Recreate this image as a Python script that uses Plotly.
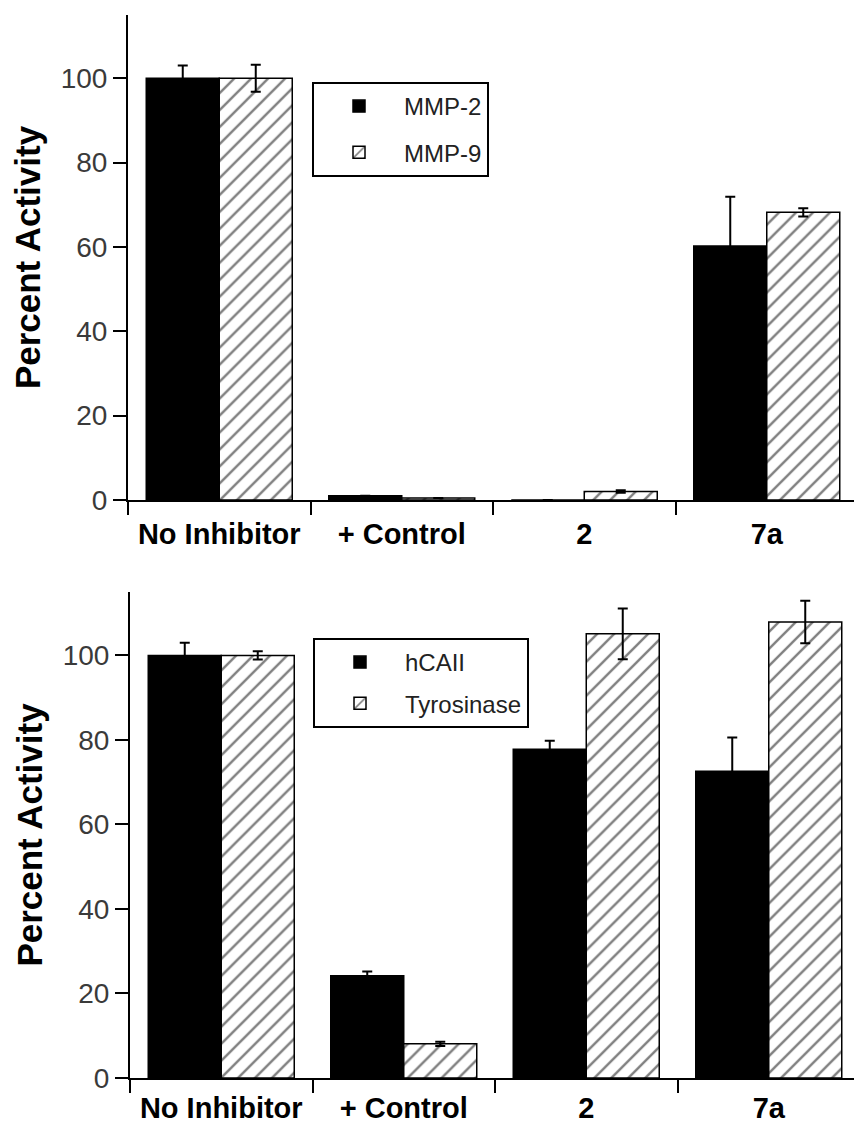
import plotly.graph_objects as go

categories = ["No Inhibitor", "+ Control", "2", "7a"]

mmp2 = [100, 1.0, 0, 60.2]
mmp2_err = [3.0, 0, 0, 11.7]
mmp9 = [100, 0.5, 2.0, 68.2]
mmp9_err = [3.2, 0, 0.3, 1.0]

hcaii = [100, 24.2, 77.8, 72.6]
hcaii_err = [3.0, 1.0, 2.0, 8.0]
tyrosinase = [100, 8.1, 105.1, 107.9]
tyrosinase_err = [1.0, 0.5, 6.0, 5.0]

y_ticks = [0, 20, 40, 60, 80, 100]

W, H = 854, 1125
FONT = "Liberation Sans, Arial, sans-serif"

def solid_marker():
    return dict(color="black", line=dict(color="black", width=1.5))

def hatch_marker():
    return dict(color="white",
                pattern=dict(shape="/", size=12, solidity=0.2, fgcolor="black",
                             bgcolor="white", fillmode="overlay"),
                line=dict(color="black", width=1.5))

def err(arr):
    return dict(type="data", array=arr, visible=True, color="black", thickness=2, width=5)

fig = go.Figure()
fig.add_trace(go.Bar(x=categories, y=mmp2, name="MMP-2", marker=solid_marker(),
                     error_y=err(mmp2_err), xaxis="x", yaxis="y",
                     legend="legend", legendgroup="a"))
fig.add_trace(go.Bar(x=categories, y=mmp9, name="MMP-9", marker=hatch_marker(),
                     error_y=err(mmp9_err), xaxis="x", yaxis="y",
                     legend="legend", legendgroup="b"))
fig.add_trace(go.Bar(x=categories, y=hcaii, name="hCAII", marker=solid_marker(),
                     error_y=err(hcaii_err), xaxis="x2", yaxis="y2",
                     legend="legend2", legendgroup="c"))
fig.add_trace(go.Bar(x=categories, y=tyrosinase, name="Tyrosinase", marker=hatch_marker(),
                     error_y=err(tyrosinase_err), xaxis="x2", yaxis="y2",
                     legend="legend2", legendgroup="d"))

def xaxis(domain, rng, anchor, standoff):
    return dict(domain=domain, range=rng, anchor=anchor, type="category",
                categoryorder="array", categoryarray=categories,
                showline=True, linecolor="black", linewidth=2,
                ticks="outside", tickson="boundaries", ticklen=13, tickwidth=2,
                tickcolor="black", showgrid=False, zeroline=False,
                ticklabelstandoff=standoff,
                tickfont=dict(family=FONT, size=29, color="black", weight="bold"),
                automargin=False, fixedrange=True)

def yaxis(domain, anchor):
    return dict(domain=domain, range=[0, 115], anchor=anchor,
                tickvals=y_ticks, ticktext=[str(v) for v in y_ticks],
                showline=True, linecolor="black", linewidth=2,
                ticks="outside", ticklen=13, tickwidth=2, tickcolor="black",
                showgrid=False, zeroline=False,
                tickfont=dict(family=FONT, size=28, color="#3a3a3a"),
                title=dict(text="Percent Activity", standoff=9,
                           font=dict(family=FONT, size=35, color="black", weight="bold")),
                automargin=False, fixedrange=True)

cat_w = 182.5
fig.update_layout(
    width=W, height=H,
    margin=dict(l=0, r=0, t=0, b=0),
    paper_bgcolor="white", plot_bgcolor="white",
    barmode="group", bargap=0.2, bargroupgap=0,
    font=dict(family=FONT),
    xaxis=xaxis([128 / W, 1], [-0.5, -0.5 + (W - 128) / cat_w], "y", 7),
    yaxis=yaxis([1 - 500 / H, 1 - 15 / H], "x"),
    xaxis2=xaxis([130 / W, 1], [-0.5, -0.5 + (W - 130) / cat_w], "y2", 3),
    yaxis2=yaxis([1 - 1078 / H, 1 - 592 / H], "x2"),
    legend=dict(x=312 / W, y=1 - 82 / H, xanchor="left", yanchor="top",
                bordercolor="black", borderwidth=2, bgcolor="white",
                font=dict(family=FONT, size=24, color="#222222"),
                itemwidth=80, tracegroupgap=12, traceorder="grouped"),
    legend2=dict(x=313 / W, y=1 - 638 / H, xanchor="left", yanchor="top",
                 bordercolor="black", borderwidth=2, bgcolor="white",
                 font=dict(family=FONT, size=24, color="#222222"),
                 itemwidth=80, tracegroupgap=7, traceorder="grouped"),
    showlegend=True,
)

fig.write_html("out.html")
